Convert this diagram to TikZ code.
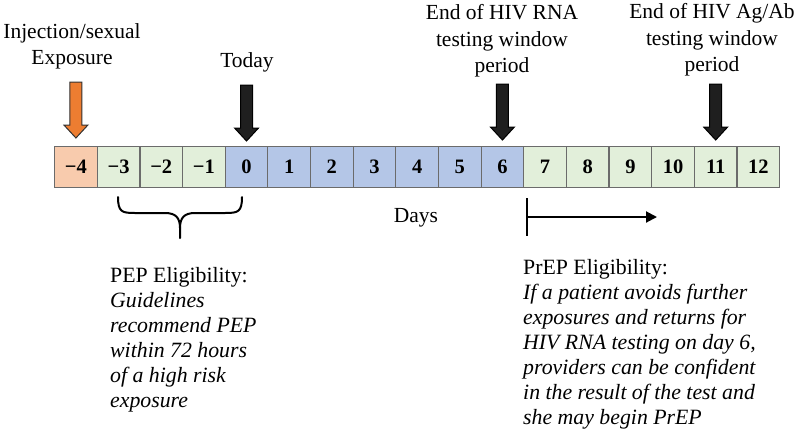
\documentclass[tikz,border=0pt]{standalone}
\usepackage{fontspec}
\setmainfont{Liberation Serif}
\usetikzlibrary{arrows.meta}
\definecolor{peach}{HTML}{F8CBAD}
\definecolor{lgreen}{HTML}{E2EFDA}
\definecolor{lblue}{HTML}{B4C6E7}
\definecolor{orng}{HTML}{ED7D31}
\definecolor{boxline}{HTML}{6B6B6B}
\begin{document}
\begin{tikzpicture}[x=1pt,y=-1pt,
  day/.style={draw=boxline, line width=1.2pt, minimum width=42.65pt, minimum height=41pt,
    inner sep=0pt, anchor=north west, font=\fontsize{20.5}{20.5}\selectfont\bfseries},
  lbl/.style={align=center, inner sep=0pt, font=\fontsize{21.5}{26.5}\selectfont},
  body/.style={align=left, inner sep=0pt, anchor=north west, font=\fontsize{21.8}{25}\selectfont},
  downarr/.pic={\draw[pic actions, line width=1pt, line join=miter]
     (-6,-56) -- (6,-56) -- (6,-13) -- (12,-13) -- (0,0) -- (-12,-13) -- (-6,-13) -- cycle;},
  heavy/.style={line width=2pt}
]
\useasboundingbox (0,0) rectangle (800,432);
\fill[white] (0,0) rectangle (800,432);

% day boxes
\foreach \i/\lab/\col in {0/−4/peach,1/−3/lgreen,2/−2/lgreen,3/−1/lgreen,
  4/0/lblue,5/1/lblue,6/2/lblue,7/3/lblue,8/4/lblue,9/5/lblue,10/6/lblue,
  11/7/lgreen,12/8/lgreen,13/9/lgreen,14/10/lgreen,15/11/lgreen,16/12/lgreen}
  \node[day, fill=\col] (d\i) at ({54+\i*42.65},146) {\lab};

% arrows
\pic[fill=orng, draw=black!80] at ([yshift=8pt]d0.north) {downarr};
\pic[fill=black!88, draw=black] at ([yshift=5pt]d4.north) {downarr};
\pic[fill=black!88, draw=black] at ([yshift=6pt]d10.north) {downarr};
\pic[fill=black!88, draw=black] at ([yshift=6pt]d15.north) {downarr};

% top labels
\node[lbl] (inj) at (72,46.5) {Injection/sexual\\Exposure};
\node[lbl] (today) at (247,62) {Today};
\node[lbl] (rna) at (502,41) {End of HIV RNA\\testing window\\period};
\node[lbl] (agab) at (712,40) {End of HIV Ag/Ab\\testing window\\period};
\node[lbl] (days) at (416,218) {Days};

% brace
\draw[heavy, line cap=round] (118,197) .. controls (118,212) and (122,213) .. (135,213) -- (165,213)
  .. controls (176,213) and (180,218) .. (180,228) -- (180,238);
\draw[heavy, line cap=round] (242,197) .. controls (242,212) and (238,213) .. (225,213) -- (195,213)
  .. controls (184,213) and (180,218) .. (180,228);

% PrEP arrow
\coordinate (pt) at (527,198);
\coordinate (pb) at (527,236);
\coordinate (ps) at (527,217);
\coordinate (pe) at (657,217);
\draw[heavy] (pt) -- (pb);
\draw[heavy, -{Triangle[length=11pt,width=11pt]}] (ps) -- (pe);

% texts
\node[body] (pep) at (110,267) {PEP Eligibility:\\\textit{Guidelines}\\\textit{recommend PEP}\\\textit{within 72 hours}\\\textit{of a high risk}\\\textit{exposure}};
\node[body] (prep) at (523,259) {PrEP Eligibility:\\\textit{If a patient avoids further}\\\textit{exposures and returns for}\\\textit{HIV RNA testing on day 6,}\\\textit{providers can be confident}\\\textit{in the result of the test and}\\\textit{she may begin PrEP}};
\end{tikzpicture}
\end{document}
